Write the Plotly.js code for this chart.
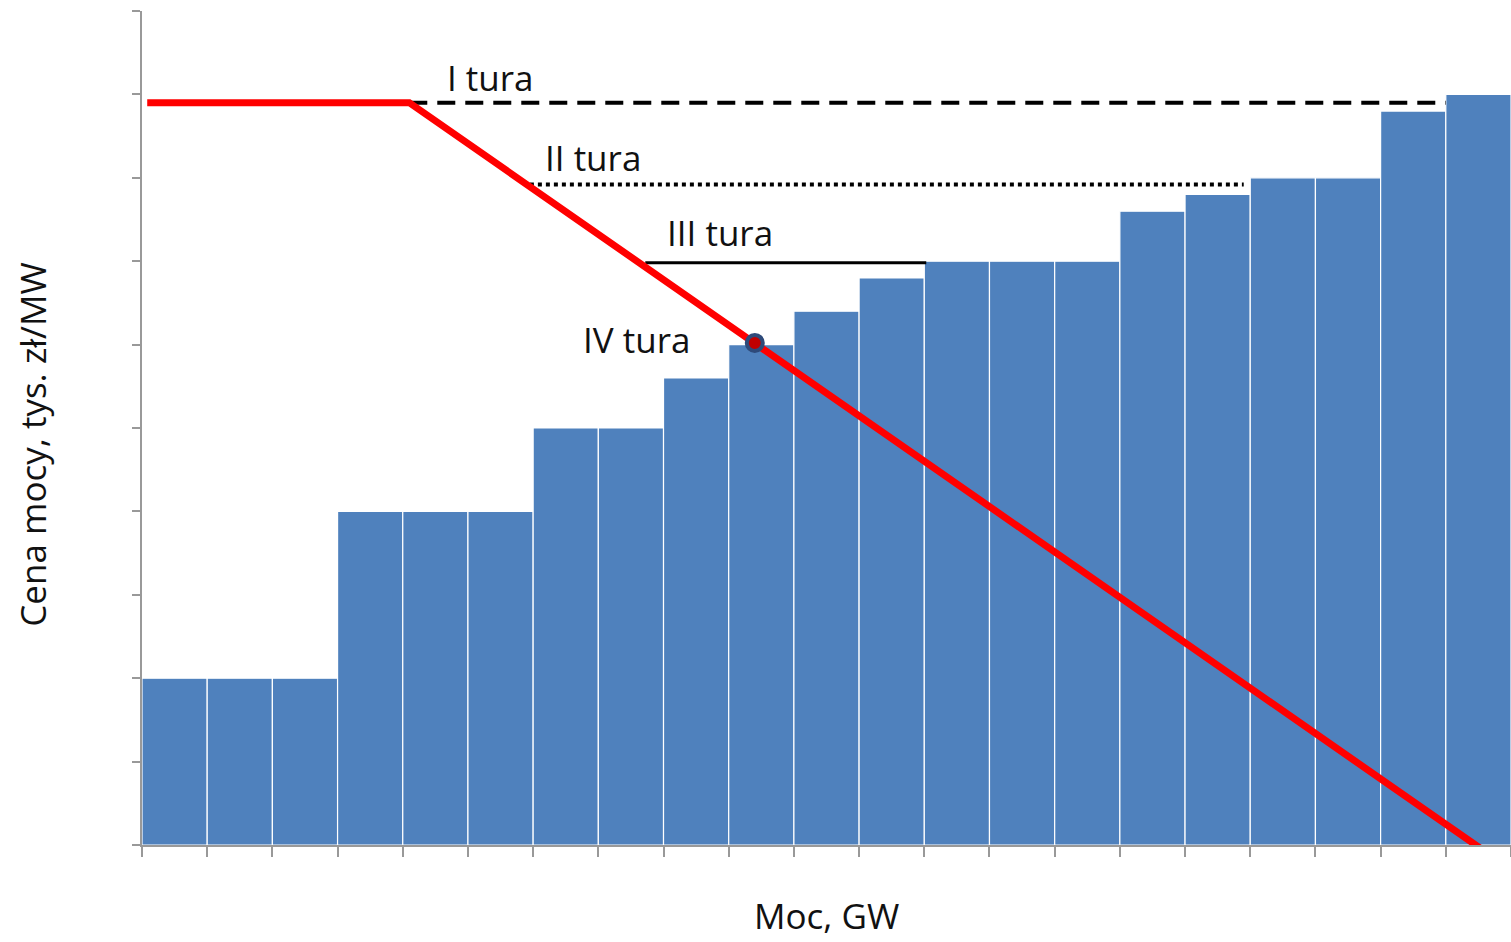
<!DOCTYPE html>
<html><head><meta charset="utf-8">
<script src="https://cdn.plot.ly/plotly-3.0.1.min.js"></script>
<style>html,body{margin:0;padding:0;background:#fff}#chart{width:1511px;height:942px}</style>
</head><body><div id="chart"></div>
<script>
// Bars: capacity blocks (GW position) and offered prices
const barX = [0.5,1.5,2.5,3.5,4.5,5.5,6.5,7.5,8.5,9.5,10.5,11.5,12.5,13.5,14.5,15.5,16.5,17.5,18.5,19.5,20.5];
const barPrice = [2,2,2,4,4,4,5,5,5.6,6,6.4,6.8,7,7,7,7.6,7.8,8,8,8.8,9];
// Demand curve (red)
const demandX = [0.08, 4.1, 20.55];
const demandY = [8.9, 8.9, -0.05];
// Auction round lines
const round1X = [4.1, 20.0], round1Y = [8.9, 8.9];
const round2X = [5.95, 16.9], round2Y = [7.92, 7.92];
const round3X = [7.72, 12.03], round3Y = [6.98, 6.98];
// Clearing point
const clearX = [9.4], clearY = [6.02];
// Labels
const labelText = ["I tura","II tura","III tura","IV tura"];
const labelX = [5.34, 6.92, 8.87, 7.59];
const labelY = [9.2, 8.24, 7.35, 6.06];
const yTicks = [0,1,2,3,4,5,6,7,8,9,10];
const xTicks = [0,1,2,3,4,5,6,7,8,9,10,11,12,13,14,15,16,17,18,19,20,21];

const font = "Open Sans, Liberation Sans, sans-serif";
const traces = [
  {type:'bar', x:barX, y:barPrice, width:1, marker:{color:'#4F81BD', line:{color:'#ffffff', width:1.2}}, hoverinfo:'none'},
  {type:'scatter', mode:'lines', x:round1X, y:round1Y, line:{color:'#000', width:4, dash:'18px,10px'}},
  {type:'scatter', mode:'lines', x:round2X, y:round2Y, line:{color:'#000', width:4, dash:'dot'}},
  {type:'scatter', mode:'lines', x:round3X, y:round3Y, line:{color:'#000', width:3}},
  {type:'scatter', mode:'lines', x:demandX, y:demandY, line:{color:'#FF0000', width:7}, cliponaxis:false},
  {type:'scatter', mode:'markers', x:clearX, y:clearY, marker:{size:16, color:'#C00000', line:{color:'#2E4A7A', width:4}}, cliponaxis:false}
];
const annotations = labelText.map((t,i)=>({x:labelX[i], y:labelY[i], xref:'x', yref:'y', xanchor:'center', yanchor:'middle', text:t, showarrow:false, font:{family:font, size:35, color:'#111'}}));
annotations.push({xref:'paper', yref:'paper', x:0.5, y:-0.084, xanchor:'center', yanchor:'middle', text:'Moc, GW', showarrow:false, font:{family:font, size:35, color:'#111'}});
annotations.push({xref:'paper', yref:'paper', x:-0.0796, y:0.48, xanchor:'center', yanchor:'middle', text:'Cena mocy, tys. zł/MW', textangle:-90, showarrow:false, font:{family:font, size:35, color:'#111'}});

const layout = {
  width:1511, height:942, margin:{l:142, r:0, t:11, b:97},
  paper_bgcolor:'#fff', plot_bgcolor:'#fff', showlegend:false, bargap:0,
  xaxis:{range:[0,21], tickmode:'array', tickvals:xTicks, showticklabels:false, ticks:'outside', ticklen:10, tickwidth:2, tickcolor:'#999', showline:true, linecolor:'#999', linewidth:2, showgrid:false, zeroline:false, fixedrange:true},
  yaxis:{range:[0,10], tickmode:'array', tickvals:yTicks, showticklabels:false, ticks:'outside', ticklen:8, tickwidth:2, tickcolor:'#999', showline:true, linecolor:'#999', linewidth:2, showgrid:false, zeroline:false, fixedrange:true},
  annotations: annotations
};
Plotly.newPlot('chart', traces, layout, {displayModeBar:false, staticPlot:true});
</script>
</body></html>
